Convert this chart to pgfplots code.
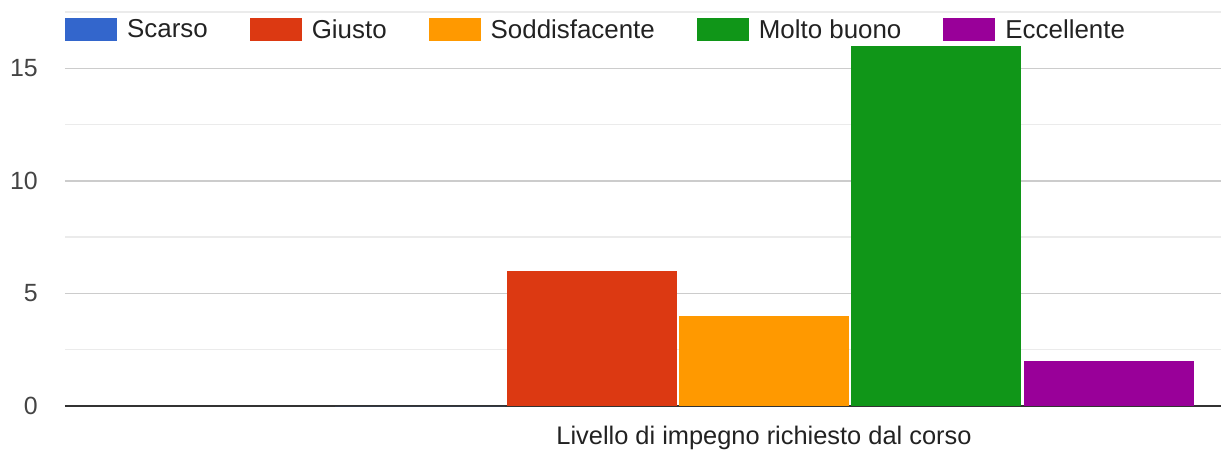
\documentclass[border=0pt]{standalone}
\usepackage{fontspec}
\setmainfont{Liberation Sans}
\usepackage{pgfplots}
\pgfplotsset{compat=1.18}
\definecolor{cScarso}{HTML}{3366CC}
\definecolor{cGiusto}{HTML}{DC3912}
\definecolor{cSodd}{HTML}{FF9900}
\definecolor{cMolto}{HTML}{109618}
\definecolor{cEcc}{HTML}{990099}
\definecolor{txt}{HTML}{444444}
\definecolor{txtdark}{HTML}{222222}

\begin{document}
\begin{tikzpicture}
\begin{axis}[
    scale only axis,
    width=1156bp, height=394bp,
    xmin=65, xmax=1221,
    ymin=0, ymax=17.5,
    ybar, bar shift=0pt, bar width=170,
    axis line style={draw=none},
    tick style={draw=none},
    ytick={5,10,15},
    minor ytick={2.5,7.5,12.5,17.5},
    extra y ticks={0},
    extra y tick style={major grid style={color=black!80, line width=1.6bp}},
    ymajorgrids, yminorgrids,
    major grid style={color=black!20, line width=1.3bp},
    minor grid style={color=black!8, line width=1.3bp},
    xtick={764},
    xticklabels={Livello di impegno richiesto dal corso},
    xticklabel style={font=\fontsize{25.5}{30}\selectfont, text=txtdark, inner sep=0pt, anchor=north, yshift=-16bp},
    yticklabel style={font=\fontsize{25}{30}\selectfont, text=txt, inner sep=0pt, anchor=east, xshift=-27bp},
    /pgf/number format/assume math mode=true,
    legend columns=5,
    legend image code/.code={\fill[#1] (0bp,-11.5bp) rectangle (52bp,11.5bp);},
    legend style={
        at={(0,1)}, anchor=north west, yshift=-6bp,
        draw=none, fill=none, inner sep=0pt,
        font=\fontsize{26}{30}\selectfont, text=txtdark,
        nodes={inner sep=0pt, anchor=west},
        /tikz/every odd column/.append style={column sep=10bp},
        /tikz/every even column/.append style={column sep=42bp},
    },
]
\addplot[fill=cScarso, draw=none] coordinates {(420,0)};
\addplot[fill=cGiusto, draw=none] coordinates {(592,6)};
\addplot[fill=cSodd, draw=none] coordinates {(764,4)};
\addplot[fill=cMolto, draw=none] coordinates {(936,16)};
\addplot[fill=cEcc, draw=none] coordinates {(1109,2)};
\legend{Scarso, Giusto, Soddisfacente, Molto buono, Eccellente}
\end{axis}
\pgfresetboundingbox
\useasboundingbox ([xshift=-65bp,yshift=-44bp]current axis.south west) rectangle ([yshift=12bp]current axis.north east);
\end{tikzpicture}
\end{document}
